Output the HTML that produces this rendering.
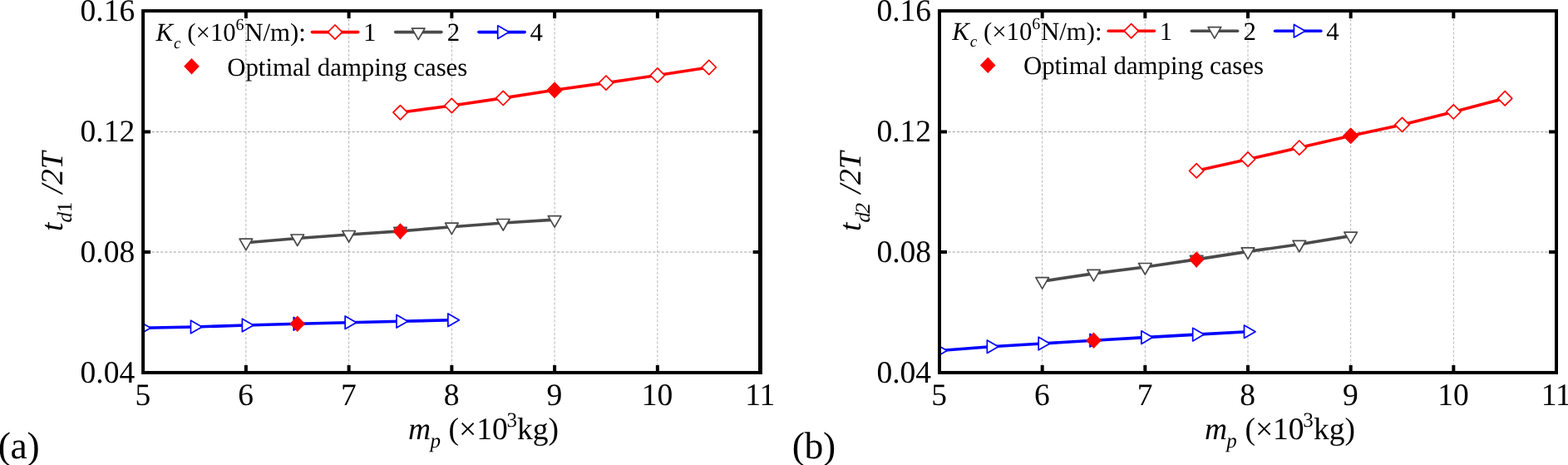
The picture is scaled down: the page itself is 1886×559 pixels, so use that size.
<!DOCTYPE html>
<html lang="en">
<head>
<meta charset="utf-8">
<title>Impact duration versus pounding mass</title>
<style>
html,body{margin:0;padding:0;background:#fff;}
body{width:1886px;height:559px;overflow:hidden;}
svg{display:block;}
text{font-family:"Liberation Serif", serif;fill:#000;text-rendering:geometricPrecision;}
</style>
</head>
<body>
<svg width="1886" height="559" viewBox="0 0 1886 559">
<rect x="0" y="0" width="1886" height="559" fill="#fff"/>
<defs>
<clipPath id="clip-a"><rect x="172.1" y="13.1" width="742.5" height="434.85"/></clipPath>
<clipPath id="clip-b"><rect x="1130" y="13.1" width="742" height="434.85"/></clipPath>
</defs>
<g id="panel-a">
<g stroke="#a2a2a2" stroke-width="1" stroke-dasharray="3.2 2.04" fill="none">
<line x1="295.85" y1="12.2" x2="295.85" y2="447.95" stroke="#b8b8b8"/>
<line x1="419.6" y1="12.2" x2="419.6" y2="447.95" stroke="#b8b8b8"/>
<line x1="543.35" y1="12.2" x2="543.35" y2="447.95" stroke="#b8b8b8"/>
<line x1="667.1" y1="12.2" x2="667.1" y2="447.95" stroke="#b8b8b8"/>
<line x1="790.85" y1="12.2" x2="790.85" y2="447.95" stroke="#b8b8b8"/>
<line x1="172.1" y1="303" x2="914.6" y2="303"/>
<line x1="172.1" y1="158.5" x2="914.6" y2="158.5"/>
</g>
<g clip-path="url(#clip-a)">
<polyline points="481.48,135.2 543.35,127 605.23,117.9 667.1,108.3 728.98,99.6 790.85,90.5 852.73,81" fill="none" stroke="#ff0000" stroke-width="3.6" stroke-linejoin="round"/>
<polygon points="481.48,126.6 490.08,135.2 481.48,143.8 472.88,135.2" fill="#fff" stroke="#ff0000" stroke-width="1.7" stroke-linejoin="round"/>
<polygon points="543.35,118.4 551.95,127 543.35,135.6 534.75,127" fill="#fff" stroke="#ff0000" stroke-width="1.7" stroke-linejoin="round"/>
<polygon points="605.23,109.3 613.83,117.9 605.23,126.5 596.62,117.9" fill="#fff" stroke="#ff0000" stroke-width="1.7" stroke-linejoin="round"/>
<polygon points="667.1,99.7 675.7,108.3 667.1,116.9 658.5,108.3" fill="#fff" stroke="#ff0000" stroke-width="1.7" stroke-linejoin="round"/>
<polygon points="728.98,91 737.58,99.6 728.98,108.2 720.38,99.6" fill="#fff" stroke="#ff0000" stroke-width="1.7" stroke-linejoin="round"/>
<polygon points="790.85,81.9 799.45,90.5 790.85,99.1 782.25,90.5" fill="#fff" stroke="#ff0000" stroke-width="1.7" stroke-linejoin="round"/>
<polygon points="852.73,72.4 861.33,81 852.73,89.6 844.12,81" fill="#fff" stroke="#ff0000" stroke-width="1.7" stroke-linejoin="round"/>
<polyline points="295.85,291.7 357.73,286.5 419.6,282 481.48,277.9 543.35,272.7 605.23,268 667.1,264.1" fill="none" stroke="#4a4a4a" stroke-width="3.6" stroke-linejoin="round"/>
<polygon points="288.06,287.2 303.64,287.2 295.85,300.7" fill="#fff" stroke="#4a4a4a" stroke-width="1.7" stroke-linejoin="round"/>
<polygon points="349.93,282 365.52,282 357.73,295.5" fill="#fff" stroke="#4a4a4a" stroke-width="1.7" stroke-linejoin="round"/>
<polygon points="411.81,277.5 427.39,277.5 419.6,291" fill="#fff" stroke="#4a4a4a" stroke-width="1.7" stroke-linejoin="round"/>
<polygon points="473.68,273.4 489.27,273.4 481.48,286.9" fill="#fff" stroke="#4a4a4a" stroke-width="1.7" stroke-linejoin="round"/>
<polygon points="535.56,268.2 551.14,268.2 543.35,281.7" fill="#fff" stroke="#4a4a4a" stroke-width="1.7" stroke-linejoin="round"/>
<polygon points="597.43,263.5 613.02,263.5 605.23,277" fill="#fff" stroke="#4a4a4a" stroke-width="1.7" stroke-linejoin="round"/>
<polygon points="659.31,259.6 674.89,259.6 667.1,273.1" fill="#fff" stroke="#4a4a4a" stroke-width="1.7" stroke-linejoin="round"/>
<polyline points="172.1,394.3 233.97,393 295.85,391 357.73,389.3 419.6,387.7 481.48,386.3 543.35,384.8" fill="none" stroke="#0000ff" stroke-width="3.6" stroke-linejoin="round"/>
<polygon points="167.6,386.51 167.6,402.09 181.1,394.3" fill="#fff" stroke="#0000ff" stroke-width="1.7" stroke-linejoin="round"/>
<polygon points="229.47,385.21 229.47,400.79 242.97,393" fill="#fff" stroke="#0000ff" stroke-width="1.7" stroke-linejoin="round"/>
<polygon points="291.35,383.21 291.35,398.79 304.85,391" fill="#fff" stroke="#0000ff" stroke-width="1.7" stroke-linejoin="round"/>
<polygon points="353.23,381.51 353.23,397.09 366.73,389.3" fill="#fff" stroke="#0000ff" stroke-width="1.7" stroke-linejoin="round"/>
<polygon points="415.1,379.91 415.1,395.49 428.6,387.7" fill="#fff" stroke="#0000ff" stroke-width="1.7" stroke-linejoin="round"/>
<polygon points="476.98,378.51 476.98,394.09 490.48,386.3" fill="#fff" stroke="#0000ff" stroke-width="1.7" stroke-linejoin="round"/>
<polygon points="538.85,377.01 538.85,392.59 552.35,384.8" fill="#fff" stroke="#0000ff" stroke-width="1.7" stroke-linejoin="round"/>
<polygon points="667.1,98.6 676.4,108.3 667.1,118 657.8,108.3" fill="#ff0000"/>
<polygon points="481.48,268.2 490.78,277.9 481.48,287.6 472.18,277.9" fill="#ff0000"/>
<polygon points="357.73,379.6 367.03,389.3 357.73,399 348.43,389.3" fill="#ff0000"/>
</g>
<g stroke="#000" stroke-width="4" fill="none">
<line x1="295.85" y1="447.95" x2="295.85" y2="438.95"/>
<line x1="295.85" y1="13.1" x2="295.85" y2="22.1"/>
<line x1="419.6" y1="447.95" x2="419.6" y2="438.95"/>
<line x1="419.6" y1="13.1" x2="419.6" y2="22.1"/>
<line x1="543.35" y1="447.95" x2="543.35" y2="438.95"/>
<line x1="543.35" y1="13.1" x2="543.35" y2="22.1"/>
<line x1="667.1" y1="447.95" x2="667.1" y2="438.95"/>
<line x1="667.1" y1="13.1" x2="667.1" y2="22.1"/>
<line x1="790.85" y1="447.95" x2="790.85" y2="438.95"/>
<line x1="790.85" y1="13.1" x2="790.85" y2="22.1"/>
<line x1="172.1" y1="303" x2="181.1" y2="303"/>
<line x1="914.6" y1="303" x2="905.6" y2="303"/>
<line x1="172.1" y1="158.45" x2="181.1" y2="158.45"/>
<line x1="914.6" y1="158.45" x2="905.6" y2="158.45"/>
</g>
<rect x="172.1" y="13.1" width="742.5" height="434.85" fill="none" stroke="#000" stroke-width="4"/>
<line x1="914.4" y1="11.1" x2="914.4" y2="449.95" stroke="#000" stroke-width="4.8"/>
<text x="162.2" y="459.75" font-size="37.5" text-anchor="end">0.04</text>
<text x="162.2" y="314.8" font-size="37.5" text-anchor="end">0.08</text>
<text x="162.2" y="169.85" font-size="37.5" text-anchor="end">0.12</text>
<text x="162.2" y="24.9" font-size="37.5" text-anchor="end">0.16</text>
<text x="171.8" y="487.2" font-size="37.5" text-anchor="middle">5</text>
<text x="295.55" y="487.2" font-size="37.5" text-anchor="middle">6</text>
<text x="419.3" y="487.2" font-size="37.5" text-anchor="middle">7</text>
<text x="543.05" y="487.2" font-size="37.5" text-anchor="middle">8</text>
<text x="666.8" y="487.2" font-size="37.5" text-anchor="middle">9</text>
<text x="790.55" y="487.2" font-size="37.5" text-anchor="middle">10</text>
<text x="914.3" y="487.2" font-size="37.5" text-anchor="middle">11</text>
<g id="xtitle-a">
<text x="491.1" y="528.2" font-size="37.5" font-style="italic">m</text>
<text x="517.4" y="538.2" font-size="25" font-style="italic">p</text>
<text x="539.5" y="528.2" font-size="37.5">(×10</text>
<text x="609.4" y="512.7" font-size="25">3</text>
<text x="622.1" y="528.2" font-size="37.5">kg)</text>
</g>
<g id="ytitle-a" transform="translate(75.4,278) rotate(-90)">
<text x="0" y="0" font-size="37.5" font-style="italic">t</text>
<text x="10.5" y="10.5" font-size="25" font-style="italic">d</text>
<text x="22.8" y="10.5" font-size="25">1</text>
<text x="45.5" y="0" font-size="37.5" font-style="italic">/2T</text>
</g>
<g id="legend-a">
<text x="187.5" y="49.3" font-size="30.8" font-style="italic">K</text>
<text x="209" y="57.7" font-size="19" font-style="italic">c</text>
<text x="225.3" y="49.3" font-size="30.8">(×10</text>
<text x="283.5" y="36.3" font-size="20">6</text>
<text x="294.2" y="49.3" font-size="30.8">N/m):</text>
<line x1="375.5" y1="38.6" x2="430.7" y2="38.6" stroke="#ff0000" stroke-width="3.6" stroke-linecap="round"/>
<polygon points="403,30 411.6,38.6 403,47.2 394.4,38.6" fill="#fff" stroke="#ff0000" stroke-width="1.7" stroke-linejoin="round"/>
<text x="437" y="49.3" font-size="30.8">1</text>
<line x1="475.7" y1="38.6" x2="530.9" y2="38.6" stroke="#4a4a4a" stroke-width="3.6" stroke-linecap="round"/>
<polygon points="495.41,34.1 510.99,34.1 503.2,47.6" fill="#fff" stroke="#4a4a4a" stroke-width="1.7" stroke-linejoin="round"/>
<text x="537.8" y="49.3" font-size="30.8">2</text>
<line x1="575.9" y1="38.6" x2="631.1" y2="38.6" stroke="#0000ff" stroke-width="3.6" stroke-linecap="round"/>
<polygon points="598.7,30.81 598.7,46.39 612.2,38.6" fill="#fff" stroke="#0000ff" stroke-width="1.7" stroke-linejoin="round"/>
<text x="637.5" y="49.3" font-size="30.8">4</text>
<polygon points="230.5,70.1 239.8,79.8 230.5,89.5 221.2,79.8" fill="#ff0000"/>
<text x="273.2" y="90.5" font-size="30.8">Optimal damping cases</text>
</g>
<text x="-2.2" y="550.7" font-size="45.6" letter-spacing="-0.4">(a)</text>
</g>
<g id="panel-b">
<g stroke="#a2a2a2" stroke-width="1" stroke-dasharray="3.2 2.04" fill="none">
<line x1="1253.67" y1="12.2" x2="1253.67" y2="447.95" stroke="#b8b8b8"/>
<line x1="1377.33" y1="12.2" x2="1377.33" y2="447.95" stroke="#b8b8b8"/>
<line x1="1501" y1="12.2" x2="1501" y2="447.95" stroke="#b8b8b8"/>
<line x1="1624.67" y1="12.2" x2="1624.67" y2="447.95" stroke="#b8b8b8"/>
<line x1="1748.33" y1="12.2" x2="1748.33" y2="447.95" stroke="#b8b8b8"/>
<line x1="1130" y1="303" x2="1872" y2="303"/>
<line x1="1130" y1="158.5" x2="1872" y2="158.5"/>
</g>
<g clip-path="url(#clip-b)">
<polyline points="1439.17,205.3 1501,191.5 1562.83,177.6 1624.67,163.3 1686.5,149.9 1748.33,134.4 1810.17,118.3" fill="none" stroke="#ff0000" stroke-width="3.6" stroke-linejoin="round"/>
<polygon points="1439.17,196.7 1447.77,205.3 1439.17,213.9 1430.57,205.3" fill="#fff" stroke="#ff0000" stroke-width="1.7" stroke-linejoin="round"/>
<polygon points="1501,182.9 1509.6,191.5 1501,200.1 1492.4,191.5" fill="#fff" stroke="#ff0000" stroke-width="1.7" stroke-linejoin="round"/>
<polygon points="1562.83,169 1571.43,177.6 1562.83,186.2 1554.23,177.6" fill="#fff" stroke="#ff0000" stroke-width="1.7" stroke-linejoin="round"/>
<polygon points="1624.67,154.7 1633.27,163.3 1624.67,171.9 1616.07,163.3" fill="#fff" stroke="#ff0000" stroke-width="1.7" stroke-linejoin="round"/>
<polygon points="1686.5,141.3 1695.1,149.9 1686.5,158.5 1677.9,149.9" fill="#fff" stroke="#ff0000" stroke-width="1.7" stroke-linejoin="round"/>
<polygon points="1748.33,125.8 1756.93,134.4 1748.33,143 1739.73,134.4" fill="#fff" stroke="#ff0000" stroke-width="1.7" stroke-linejoin="round"/>
<polygon points="1810.17,109.7 1818.77,118.3 1810.17,126.9 1801.57,118.3" fill="#fff" stroke="#ff0000" stroke-width="1.7" stroke-linejoin="round"/>
<polyline points="1253.67,338.1 1315.5,328.9 1377.33,321 1439.17,311.9 1501,302.4 1562.83,293.8 1624.67,283.6" fill="none" stroke="#4a4a4a" stroke-width="3.6" stroke-linejoin="round"/>
<polygon points="1245.87,333.6 1261.46,333.6 1253.67,347.1" fill="#fff" stroke="#4a4a4a" stroke-width="1.7" stroke-linejoin="round"/>
<polygon points="1307.71,324.4 1323.29,324.4 1315.5,337.9" fill="#fff" stroke="#4a4a4a" stroke-width="1.7" stroke-linejoin="round"/>
<polygon points="1369.54,316.5 1385.13,316.5 1377.33,330" fill="#fff" stroke="#4a4a4a" stroke-width="1.7" stroke-linejoin="round"/>
<polygon points="1431.37,307.4 1446.96,307.4 1439.17,320.9" fill="#fff" stroke="#4a4a4a" stroke-width="1.7" stroke-linejoin="round"/>
<polygon points="1493.21,297.9 1508.79,297.9 1501,311.4" fill="#fff" stroke="#4a4a4a" stroke-width="1.7" stroke-linejoin="round"/>
<polygon points="1555.04,289.3 1570.63,289.3 1562.83,302.8" fill="#fff" stroke="#4a4a4a" stroke-width="1.7" stroke-linejoin="round"/>
<polygon points="1616.87,279.1 1632.46,279.1 1624.67,292.6" fill="#fff" stroke="#4a4a4a" stroke-width="1.7" stroke-linejoin="round"/>
<polyline points="1130,421.5 1191.83,416.7 1253.67,413 1315.5,409.2 1377.33,405.6 1439.17,402.1 1501,398.7" fill="none" stroke="#0000ff" stroke-width="3.6" stroke-linejoin="round"/>
<polygon points="1125.5,413.71 1125.5,429.29 1139,421.5" fill="#fff" stroke="#0000ff" stroke-width="1.7" stroke-linejoin="round"/>
<polygon points="1187.33,408.91 1187.33,424.49 1200.83,416.7" fill="#fff" stroke="#0000ff" stroke-width="1.7" stroke-linejoin="round"/>
<polygon points="1249.17,405.21 1249.17,420.79 1262.67,413" fill="#fff" stroke="#0000ff" stroke-width="1.7" stroke-linejoin="round"/>
<polygon points="1311,401.41 1311,416.99 1324.5,409.2" fill="#fff" stroke="#0000ff" stroke-width="1.7" stroke-linejoin="round"/>
<polygon points="1372.83,397.81 1372.83,413.39 1386.33,405.6" fill="#fff" stroke="#0000ff" stroke-width="1.7" stroke-linejoin="round"/>
<polygon points="1434.67,394.31 1434.67,409.89 1448.17,402.1" fill="#fff" stroke="#0000ff" stroke-width="1.7" stroke-linejoin="round"/>
<polygon points="1496.5,390.91 1496.5,406.49 1510,398.7" fill="#fff" stroke="#0000ff" stroke-width="1.7" stroke-linejoin="round"/>
<polygon points="1624.67,153.6 1633.97,163.3 1624.67,173 1615.37,163.3" fill="#ff0000"/>
<polygon points="1439.17,302.2 1448.47,311.9 1439.17,321.6 1429.87,311.9" fill="#ff0000"/>
<polygon points="1315.5,399.5 1324.8,409.2 1315.5,418.9 1306.2,409.2" fill="#ff0000"/>
</g>
<g stroke="#000" stroke-width="4" fill="none">
<line x1="1253.67" y1="447.95" x2="1253.67" y2="438.95"/>
<line x1="1253.67" y1="13.1" x2="1253.67" y2="22.1"/>
<line x1="1377.33" y1="447.95" x2="1377.33" y2="438.95"/>
<line x1="1377.33" y1="13.1" x2="1377.33" y2="22.1"/>
<line x1="1501" y1="447.95" x2="1501" y2="438.95"/>
<line x1="1501" y1="13.1" x2="1501" y2="22.1"/>
<line x1="1624.67" y1="447.95" x2="1624.67" y2="438.95"/>
<line x1="1624.67" y1="13.1" x2="1624.67" y2="22.1"/>
<line x1="1748.33" y1="447.95" x2="1748.33" y2="438.95"/>
<line x1="1748.33" y1="13.1" x2="1748.33" y2="22.1"/>
<line x1="1130" y1="303" x2="1139" y2="303"/>
<line x1="1872" y1="303" x2="1863" y2="303"/>
<line x1="1130" y1="158.45" x2="1139" y2="158.45"/>
<line x1="1872" y1="158.45" x2="1863" y2="158.45"/>
</g>
<rect x="1130" y="13.1" width="742" height="434.85" fill="none" stroke="#000" stroke-width="4"/>
<text x="1120.1" y="459.75" font-size="37.5" text-anchor="end">0.04</text>
<text x="1120.1" y="314.8" font-size="37.5" text-anchor="end">0.08</text>
<text x="1120.1" y="169.85" font-size="37.5" text-anchor="end">0.12</text>
<text x="1120.1" y="24.9" font-size="37.5" text-anchor="end">0.16</text>
<text x="1129.7" y="487.2" font-size="37.5" text-anchor="middle">5</text>
<text x="1253.37" y="487.2" font-size="37.5" text-anchor="middle">6</text>
<text x="1377.03" y="487.2" font-size="37.5" text-anchor="middle">7</text>
<text x="1500.7" y="487.2" font-size="37.5" text-anchor="middle">8</text>
<text x="1624.37" y="487.2" font-size="37.5" text-anchor="middle">9</text>
<text x="1748.03" y="487.2" font-size="37.5" text-anchor="middle">10</text>
<text x="1871.7" y="487.2" font-size="37.5" text-anchor="middle">11</text>
<g id="xtitle-b">
<text x="1449" y="528.2" font-size="37.5" font-style="italic">m</text>
<text x="1475.3" y="538.2" font-size="25" font-style="italic">p</text>
<text x="1497.4" y="528.2" font-size="37.5">(×10</text>
<text x="1567.3" y="512.7" font-size="25">3</text>
<text x="1580" y="528.2" font-size="37.5">kg)</text>
</g>
<g id="ytitle-b" transform="translate(1035.4,278) rotate(-90)">
<text x="0" y="0" font-size="37.5" font-style="italic">t</text>
<text x="10.5" y="10.5" font-size="25" font-style="italic">d</text>
<text x="21.6" y="10.5" font-size="25" font-style="italic">2</text>
<text x="45.5" y="0" font-size="37.5" font-style="italic">/2T</text>
</g>
<g id="legend-b">
<text x="1145.2" y="47.9" font-size="30.8" font-style="italic">K</text>
<text x="1166.7" y="56.3" font-size="19" font-style="italic">c</text>
<text x="1183" y="47.9" font-size="30.8">(×10</text>
<text x="1241.2" y="34.9" font-size="20">6</text>
<text x="1251.9" y="47.9" font-size="30.8">N/m):</text>
<line x1="1333.2" y1="37.2" x2="1388.4" y2="37.2" stroke="#ff0000" stroke-width="3.6" stroke-linecap="round"/>
<polygon points="1360.7,28.6 1369.3,37.2 1360.7,45.8 1352.1,37.2" fill="#fff" stroke="#ff0000" stroke-width="1.7" stroke-linejoin="round"/>
<text x="1394.7" y="47.9" font-size="30.8">1</text>
<line x1="1433.4" y1="37.2" x2="1488.6" y2="37.2" stroke="#4a4a4a" stroke-width="3.6" stroke-linecap="round"/>
<polygon points="1453.11,32.7 1468.69,32.7 1460.9,46.2" fill="#fff" stroke="#4a4a4a" stroke-width="1.7" stroke-linejoin="round"/>
<text x="1495.5" y="47.9" font-size="30.8">2</text>
<line x1="1533.6" y1="37.2" x2="1588.8" y2="37.2" stroke="#0000ff" stroke-width="3.6" stroke-linecap="round"/>
<polygon points="1556.4,29.41 1556.4,44.99 1569.9,37.2" fill="#fff" stroke="#0000ff" stroke-width="1.7" stroke-linejoin="round"/>
<text x="1595.2" y="47.9" font-size="30.8">4</text>
<polygon points="1188.2,68.7 1197.5,78.4 1188.2,88.1 1178.9,78.4" fill="#ff0000"/>
<text x="1230.9" y="89.1" font-size="30.8">Optimal damping cases</text>
</g>
<text x="952.8" y="550.7" font-size="45.6" letter-spacing="-0.4">(b)</text>
</g>
</svg>
</body>
</html>
